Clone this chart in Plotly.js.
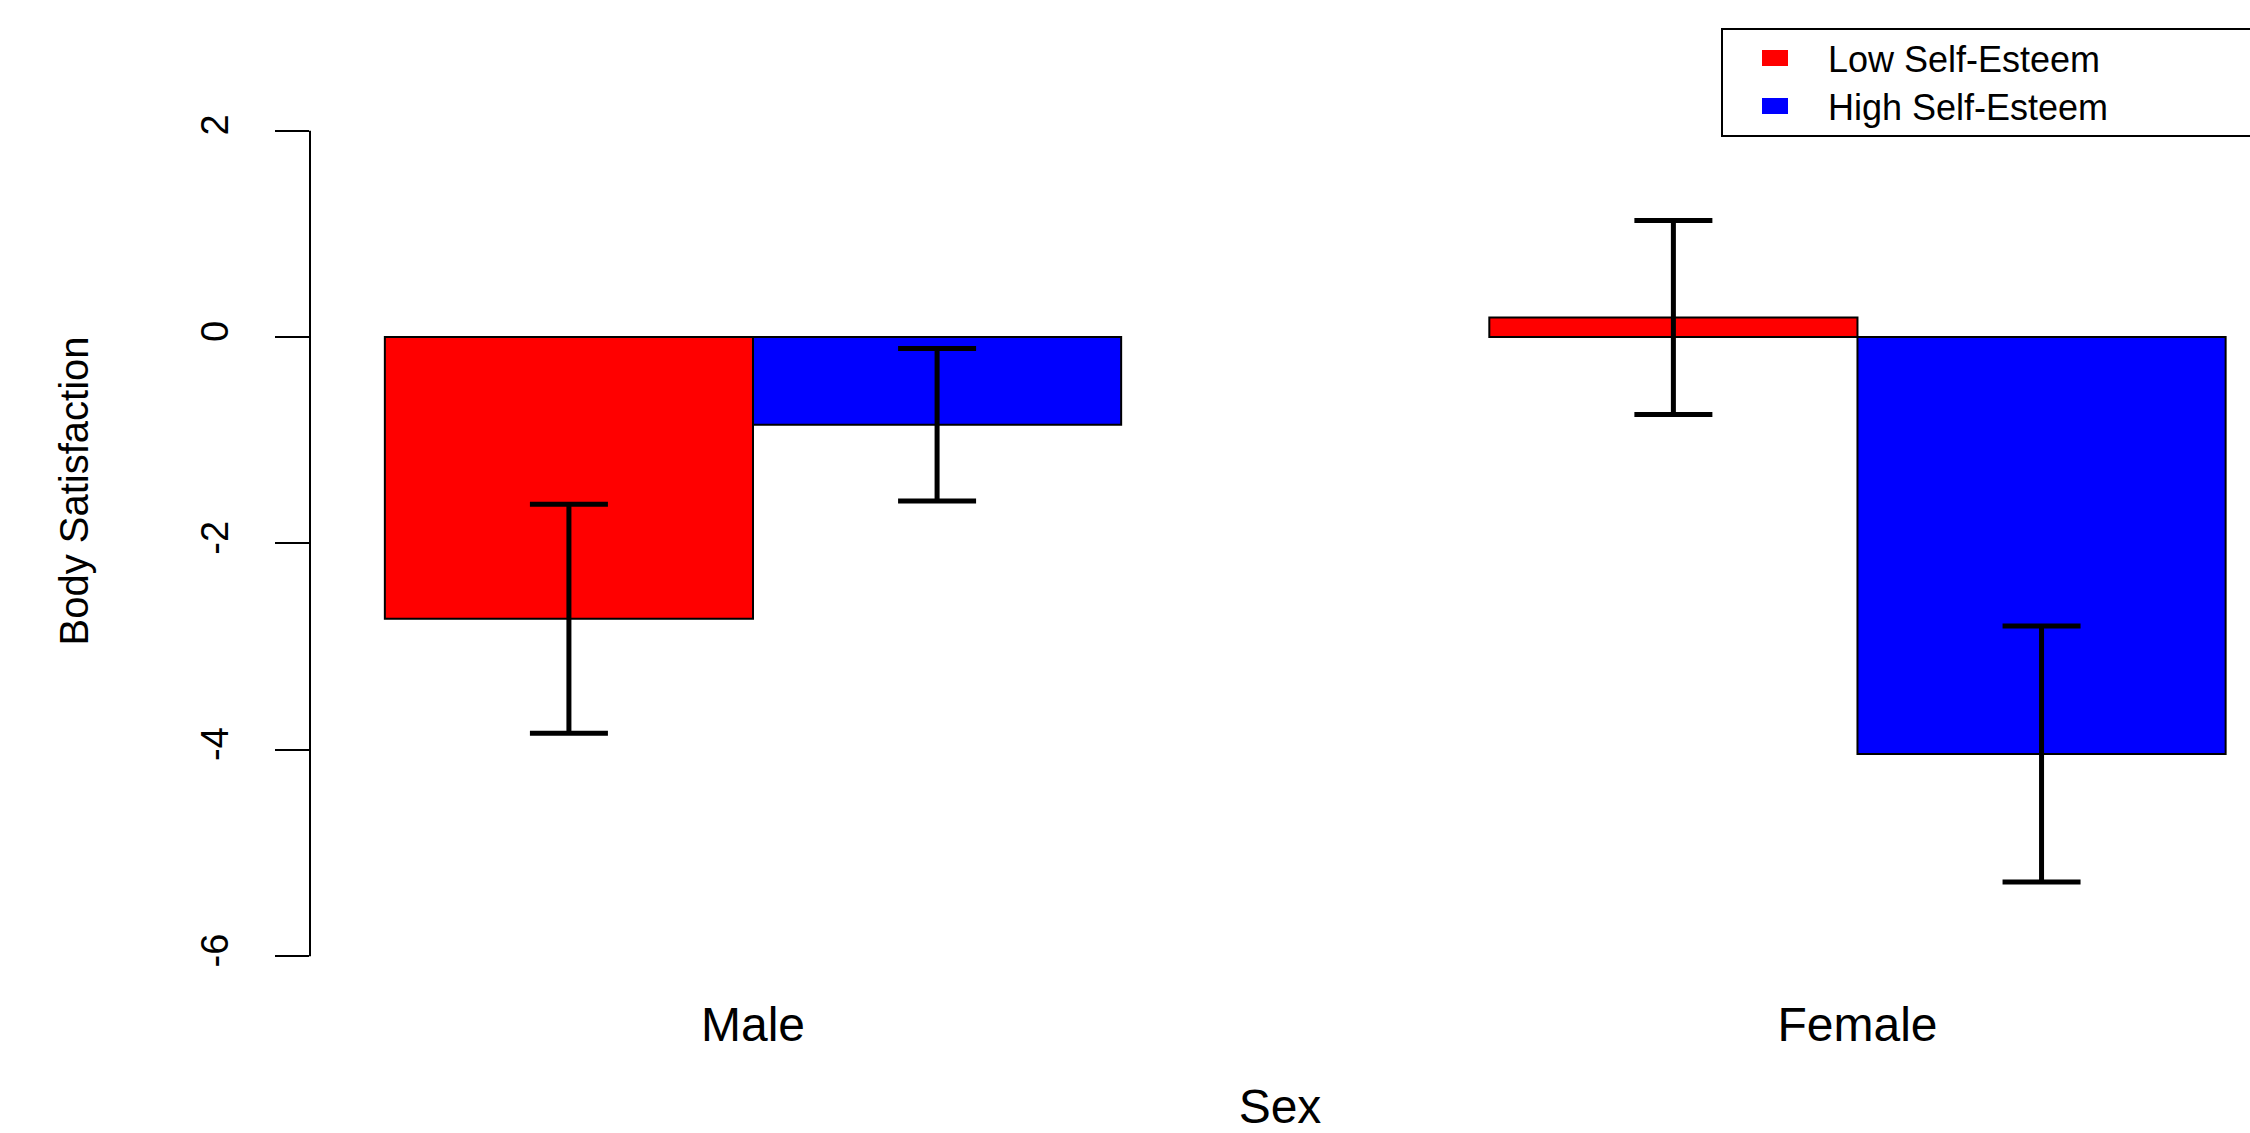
<!DOCTYPE html>
<html>
<head>
<meta charset="utf-8">
<script src="https://cdn.plot.ly/plotly-3.0.1.min.js"></script>
<style>html,body{margin:0;padding:0;background:#fff;}#chart{width:2250px;height:1133px;}</style>
</head>
<body>
<div id="chart"></div>
<script>
// ---- data ----
const categories = ['Male', 'Female'];
const seriesNames = ['Low Self-Esteem', 'High Self-Esteem'];
const lowValues = [-2.73, 0.19];
const highValues = [-0.85, -4.04];
const lowErrors = [1.11, 0.94];
const highErrors = [0.74, 1.24];
const yTicks = [-6, -4, -2, 0, 2];
const xTitle = 'Sex';
const yTitle = 'Body Satisfaction';

const colors = ['#ff0000', '#0000ff'];
const FONT = 'Liberation Sans, Arial, Helvetica, sans-serif';

function barTrace(name, vals, errs, color) {
  return {
    type: 'bar', name: name, x: categories, y: vals,
    marker: {color: color, line: {color: '#000', width: 2}},
    error_y: {type: 'data', array: errs, visible: true, color: '#000', thickness: 5, width: 39},
    showlegend: false, hoverinfo: 'x+y'
  };
}

const traces = [
  barTrace(seriesNames[0], lowValues, lowErrors, colors[0]),
  barTrace(seriesNames[1], highValues, highErrors, colors[1])
];

const H = 982; // plot area height in px (t = 0)
const py = px => 1 - px / H;
const PW = 1940; const L = 310;
const pxx = px => (px - L) / PW;

const legendRows = [58, 106]; // vertical centres (px) of the two legend rows

const shapes = [
  // y axis line spanning only the tick range
  {type: 'line', xref: 'paper', yref: 'y', x0: 0, x1: 0, y0: yTicks[0], y1: yTicks[yTicks.length - 1], line: {color: '#000', width: 2}},
  // legend box
  {type: 'rect', xref: 'paper', yref: 'paper', x0: pxx(1722), x1: pxx(2262), y0: py(136), y1: py(29), line: {color: '#000', width: 2}, fillcolor: 'rgba(0,0,0,0)'}
];
const annotations = [];
seriesNames.forEach((nm, i) => {
  const c = legendRows[i];
  shapes.push({type: 'rect', xref: 'paper', yref: 'paper', x0: pxx(1762), x1: pxx(1788), y0: py(c + 8), y1: py(c - 8), line: {width: 0}, fillcolor: colors[i]});
  annotations.push({xref: 'paper', yref: 'paper', x: pxx(1826), y: py(c + 1), xanchor: 'left', yanchor: 'middle', text: nm, showarrow: false, font: {family: FONT, size: 36, color: '#000'}});
});

const layout = {
  width: 2250, height: 1133,
  margin: {l: L, r: 0, t: 0, b: 1133 - H, pad: 0},
  paper_bgcolor: '#fff', plot_bgcolor: '#fff',
  barmode: 'group', bargap: 1 / 3, bargroupgap: 0,
  font: {family: FONT, color: '#000'},
  xaxis: {
    type: 'category', range: [-0.4011, 1.3554],
    showline: false, showgrid: false, zeroline: false, ticks: '',
    tickfont: {family: FONT, size: 48, color: '#000'},
    ticklabelstandoff: 10,
    title: {text: xTitle, font: {family: FONT, size: 48, color: '#000'}, standoff: 62},
    fixedrange: true
  },
  yaxis: {
    range: [-6.25, 3.266],
    tickvals: yTicks, ticktext: yTicks.map(String),
    showline: false, showgrid: false, zeroline: false,
    ticks: 'outside', ticklen: 34, tickwidth: 2, tickcolor: '#000',
    tickangle: -90,
    ticklabelstandoff: 32,
    tickfont: {family: FONT, size: 38, color: '#000'},
    title: {text: yTitle, font: {family: FONT, size: 40, color: '#000'}, standoff: 92},
    fixedrange: true
  },
  shapes: shapes,
  annotations: annotations,
  showlegend: false
};

Plotly.newPlot('chart', traces, layout, {displayModeBar: false, staticPlot: true});
</script>
</body>
</html>
